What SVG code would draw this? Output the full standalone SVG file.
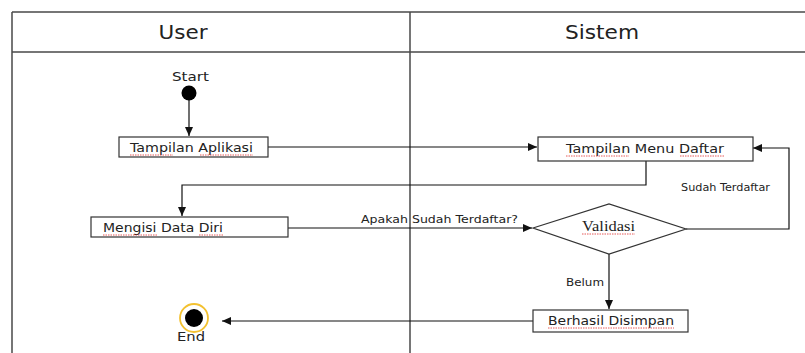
<svg xmlns="http://www.w3.org/2000/svg" width="805" height="353" viewBox="0 0 805 353">
<defs>
<style>
.frame{stroke:#4a4a4a;stroke-width:1.5;fill:none}
.box{fill:#fff;stroke:#333;stroke-width:1.2}
.edge{stroke:#111;stroke-width:1.2;fill:none}
.lbl{font-family:"DejaVu Sans",Verdana,sans-serif;fill:#222}
.hd{font-family:"DejaVu Sans",Verdana,sans-serif;font-size:19px;fill:#222;text-anchor:middle}
.sq{stroke:#e03030;stroke-width:0.8;fill:none;stroke-dasharray:1.5 1}
</style>
<marker id="arr" markerWidth="10" markerHeight="8" refX="9" refY="4" orient="auto" markerUnits="userSpaceOnUse">
<path d="M0,0 L9,4 L0,8 Z" fill="#111"/>
</marker>
</defs>
<rect width="805" height="353" fill="#fff"/>
<g id="swimlanes">
<path class="frame" d="M12,12 H805 M12,52 H805 M12,12 V353 M410,12 V353"/>
<text class="hd" x="183" y="39" textLength="49" lengthAdjust="spacingAndGlyphs">User</text>
<text class="hd" x="602" y="39" textLength="74" lengthAdjust="spacingAndGlyphs">Sistem</text>
</g>
<g id="connectors">
<path class="edge" d="M189,100 V136" marker-end="url(#arr)"/>
<path class="edge" d="M268,147 H537" marker-end="url(#arr)"/>
<path class="edge" d="M646,161 V185 H182 V216" marker-end="url(#arr)"/>
<path class="edge" d="M288,228 H532" marker-end="url(#arr)"/>
<path class="edge" d="M686,229 H789 V148 H753" marker-end="url(#arr)"/>
<path class="edge" d="M609,254 V309" marker-end="url(#arr)"/>
<path class="edge" d="M533,321 H222" marker-end="url(#arr)"/>
<text class="lbl" x="361" y="223" font-size="11" textLength="157" lengthAdjust="spacingAndGlyphs">Apakah Sudah Terdaftar?</text>
<text class="lbl" x="681" y="191" font-size="11" textLength="89" lengthAdjust="spacingAndGlyphs">Sudah Terdaftar</text>
<text class="lbl" x="566" y="286" font-size="11" textLength="38" lengthAdjust="spacingAndGlyphs">Belum</text>
</g>
<g id="start">
<circle cx="189" cy="93" r="7.5" fill="#000"/>
<text class="lbl" x="172" y="81" font-size="13" textLength="37" lengthAdjust="spacingAndGlyphs">Start</text>
</g>
<g id="tampilan-aplikasi">
<rect class="box" x="119" y="137" width="149" height="20"/>
<text class="lbl" x="130" y="152" font-size="13" textLength="123" lengthAdjust="spacingAndGlyphs">Tampilan Aplikasi</text>
<path class="sq" d="M130,155 H173 M200,155 H253"/>
</g>
<g id="tampilan-menu-daftar">
<rect class="box" x="538" y="137" width="215" height="24"/>
<text class="lbl" x="566" y="153" font-size="13" textLength="158" lengthAdjust="spacingAndGlyphs">Tampilan Menu Daftar</text>
<path class="sq" d="M566,156 H629 M680,156 H724"/>
</g>
<g id="mengisi-data-diri">
<rect class="box" x="91" y="217" width="197" height="20"/>
<text class="lbl" x="103" y="232" font-size="13" textLength="120" lengthAdjust="spacingAndGlyphs">Mengisi Data Diri</text>
<path class="sq" d="M103,235 H158 M199,235 H223"/>
</g>
<g id="validasi">
<path class="box" d="M533,228 L609,204 L686,229 L609,254 Z"/>
<text x="582" y="231" font-family="'Liberation Serif','Times New Roman',serif" font-size="15" textLength="53" lengthAdjust="spacingAndGlyphs" fill="#222">Validasi</text>
<path class="sq" d="M582,234 H635"/>
</g>
<g id="berhasil-disimpan">
<rect class="box" x="533" y="310" width="155" height="22"/>
<text class="lbl" x="548" y="325" font-size="13" textLength="126" lengthAdjust="spacingAndGlyphs">Berhasil Disimpan</text>
<path class="sq" d="M548,328 H674"/>
</g>
<g id="end">
<circle cx="194" cy="318" r="14" fill="#fff" stroke="#f3c130" stroke-width="1.8"/>
<circle cx="194" cy="318" r="9" fill="#000"/>
<text class="lbl" x="177" y="341" font-size="13" textLength="28" lengthAdjust="spacingAndGlyphs">End</text>
</g>
</svg>
